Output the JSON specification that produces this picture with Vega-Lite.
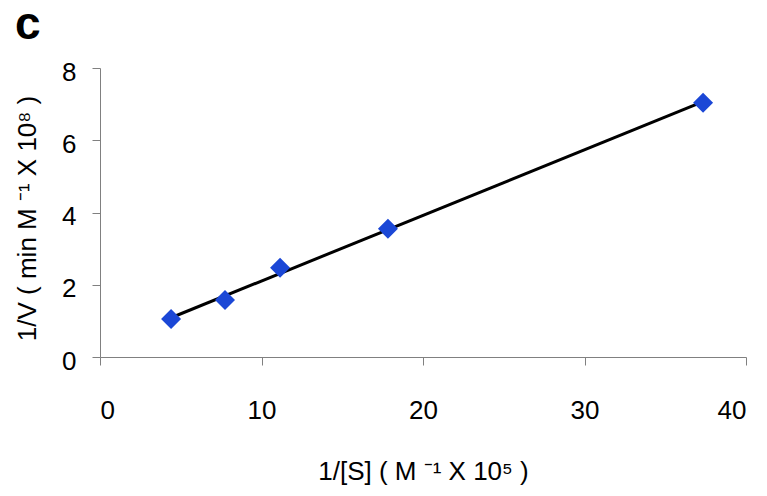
{
  "$schema": "https://vega.github.io/schema/vega-lite/v6.json",
  "width": 646,
  "height": 289,
  "autosize": {"type": "none"},
  "padding": {"left": 100, "top": 68, "right": 21, "bottom": 139},
  "background": "white",
  "title": {"text": "c", "font": "Liberation Sans", "fontSize": 46, "fontWeight": "bold", "anchor": "start", "frame": "group", "dx": -85, "offset": 10, "color": "black"},
  "config": {"view": {"stroke": null}},
  "data": {"values": [
    {"s": 4.40, "v": 1.05},
    {"s": 7.74, "v": 1.58},
    {"s": 11.15, "v": 2.47},
    {"s": 17.83, "v": 3.55},
    {"s": 37.34, "v": 7.04}
  ]},
  "layer": [
    {
      "transform": [{"regression": "v", "on": "s"}],
      "mark": {"type": "line", "color": "black", "strokeWidth": 3},
      "encoding": {
        "x": {"field": "s", "type": "quantitative"},
        "y": {"field": "v", "type": "quantitative"}
      }
    },
    {
      "mark": {"type": "point", "shape": "diamond", "filled": true, "size": 400, "color": "#1b47d6", "opacity": 1},
      "encoding": {
        "x": {"field": "s", "type": "quantitative", "scale": {"domain": [0, 40], "nice": false},
          "axis": {"values": [0, 10, 20, 30, 40], "grid": false, "domainColor": "#808080", "tickColor": "#808080", "tickSize": 8, "labelFont": "Liberation Sans", "labelFontSize": 26, "labelColor": "black", "labelPadding": 32,
            "title": "1/[S] ( M ⁻¹ X 10⁵ )", "titleFont": "Liberation Sans", "titleFontSize": 26, "titleFontWeight": "normal", "titleColor": "black", "titlePadding": 35}},
        "y": {"field": "v", "type": "quantitative", "scale": {"domain": [0, 8], "nice": false},
          "axis": {"values": [0, 2, 4, 6, 8], "grid": false, "domainColor": "#808080", "tickColor": "#808080", "tickSize": 8, "labelFont": "Liberation Sans", "labelFontSize": 26, "labelColor": "black", "labelPadding": 16, "labelOffset": 4,
            "title": "1/V ( min M ⁻¹ X 10⁸ )", "titleFont": "Liberation Sans", "titleFontSize": 26, "titleFontWeight": "normal", "titleColor": "black", "titlePadding": 21, "titleY": 150}}
      }
    }
  ]
}
